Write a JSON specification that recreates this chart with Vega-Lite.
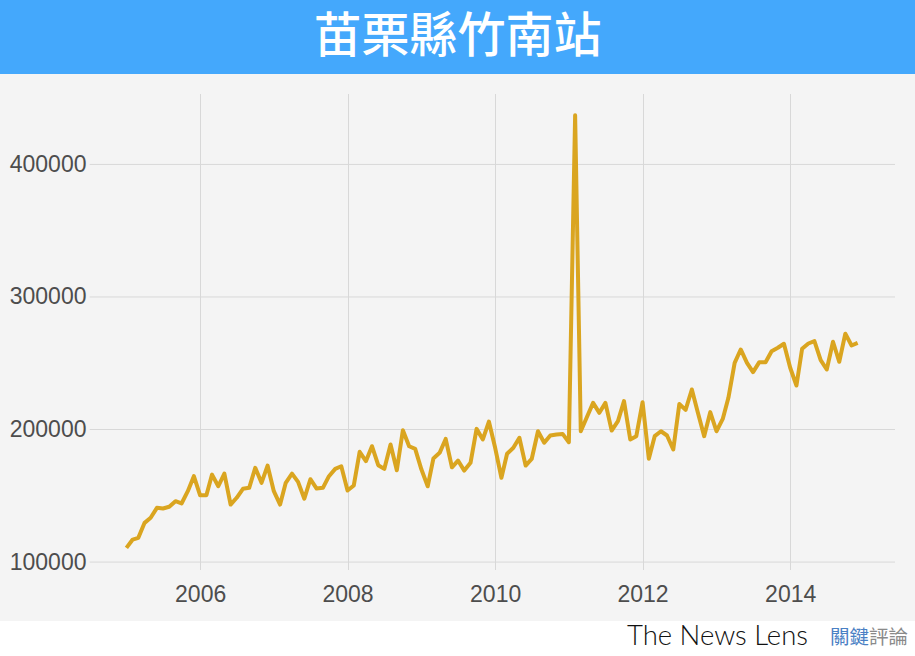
{
  "$schema": "https://vega.github.io/schema/vega-lite/v6.json",
  "padding": 0,
  "background": "#f4f4f4",
  "spacing": 14.5,
  "config": {
    "axis": {
      "domain": false,
      "ticks": false,
      "tickSize": 0,
      "labelFont": "Liberation Sans",
      "labelFontSize": 23,
      "labelColor": "#4d4d4d",
      "gridColor": "#d8d8d8",
      "gridWidth": 1,
      "title": null
    }
  },
  "vconcat": [
    {
      "width": 915,
      "height": 74,
      "view": {"fill": "#44a8fc", "stroke": null},
      "data": {"values": [{"title": "苗栗縣竹南站"}]},
      "mark": {"type": "text", "font": "Noto Sans CJK TC", "fontSize": 48, "fontWeight": 500, "color": "#ffffff", "align": "center", "baseline": "middle", "dy": 1},
      "encoding": {"text": {"field": "title", "type": "nominal"}}
    },
    {
      "width": 895,
      "height": 476,
      "title": {"text": " ", "fontSize": 5, "offset": 0, "anchor": "start"},
      "view": {"fill": "#f4f4f4", "stroke": null},
      "layer": [
        {
          "data": {"values": [{"g": 100000}, {"g": 200000}, {"g": 300000}, {"g": 400000}]},
          "mark": {"type": "rule", "color": "#d8d8d8", "strokeWidth": 1},
          "encoding": {
            "y": {"field": "g", "type": "quantitative"},
            "x": {"datum": {"year": 2004, "month": 7, "date": 3, "utc": true}, "type": "temporal"},
            "x2": {"datum": {"year": 2015, "month": 6, "date": 4, "utc": true}}
          }
        },
        {
          "data": {"values": [
            {"month": "2005-01-01", "count": 110700},
            {"month": "2005-02-01", "count": 117000},
            {"month": "2005-03-01", "count": 118300},
            {"month": "2005-04-01", "count": 129600},
            {"month": "2005-05-01", "count": 133400},
            {"month": "2005-06-01", "count": 140900},
            {"month": "2005-07-01", "count": 140400},
            {"month": "2005-08-01", "count": 141700},
            {"month": "2005-09-01", "count": 145900},
            {"month": "2005-10-01", "count": 144200},
            {"month": "2005-11-01", "count": 153500},
            {"month": "2005-12-01", "count": 164800},
            {"month": "2006-01-01", "count": 150400},
            {"month": "2006-02-01", "count": 150400},
            {"month": "2006-03-01", "count": 166000},
            {"month": "2006-04-01", "count": 157200},
            {"month": "2006-05-01", "count": 166800},
            {"month": "2006-06-01", "count": 143400},
            {"month": "2006-07-01", "count": 148500},
            {"month": "2006-08-01", "count": 155300},
            {"month": "2006-09-01", "count": 156000},
            {"month": "2006-10-01", "count": 171100},
            {"month": "2006-11-01", "count": 159800},
            {"month": "2006-12-01", "count": 172800},
            {"month": "2007-01-01", "count": 153500},
            {"month": "2007-02-01", "count": 143400},
            {"month": "2007-03-01", "count": 159800},
            {"month": "2007-04-01", "count": 166700},
            {"month": "2007-05-01", "count": 160500},
            {"month": "2007-06-01", "count": 147800},
            {"month": "2007-07-01", "count": 162500},
            {"month": "2007-08-01", "count": 155500},
            {"month": "2007-09-01", "count": 156000},
            {"month": "2007-10-01", "count": 164800},
            {"month": "2007-11-01", "count": 170300},
            {"month": "2007-12-01", "count": 172300},
            {"month": "2008-01-01", "count": 154000},
            {"month": "2008-02-01", "count": 157800},
            {"month": "2008-03-01", "count": 183200},
            {"month": "2008-04-01", "count": 176100},
            {"month": "2008-05-01", "count": 187400},
            {"month": "2008-06-01", "count": 173100},
            {"month": "2008-07-01", "count": 170300},
            {"month": "2008-08-01", "count": 188700},
            {"month": "2008-09-01", "count": 169300},
            {"month": "2008-10-01", "count": 199500},
            {"month": "2008-11-01", "count": 187400},
            {"month": "2008-12-01", "count": 185400},
            {"month": "2009-01-01", "count": 169800},
            {"month": "2009-02-01", "count": 157200},
            {"month": "2009-03-01", "count": 178100},
            {"month": "2009-04-01", "count": 182400},
            {"month": "2009-05-01", "count": 192900},
            {"month": "2009-06-01", "count": 171500},
            {"month": "2009-07-01", "count": 176600},
            {"month": "2009-08-01", "count": 169000},
            {"month": "2009-09-01", "count": 174900},
            {"month": "2009-10-01", "count": 200500},
            {"month": "2009-11-01", "count": 192500},
            {"month": "2009-12-01", "count": 206000},
            {"month": "2010-01-01", "count": 186200},
            {"month": "2010-02-01", "count": 163600},
            {"month": "2010-03-01", "count": 181700},
            {"month": "2010-04-01", "count": 186200},
            {"month": "2010-05-01", "count": 193800},
            {"month": "2010-06-01", "count": 172800},
            {"month": "2010-07-01", "count": 177800},
            {"month": "2010-08-01", "count": 198700},
            {"month": "2010-09-01", "count": 190000},
            {"month": "2010-10-01", "count": 195500},
            {"month": "2010-11-01", "count": 196200},
            {"month": "2010-12-01", "count": 196700},
            {"month": "2011-01-01", "count": 190400},
            {"month": "2011-02-01", "count": 437000},
            {"month": "2011-03-01", "count": 198700},
            {"month": "2011-04-01", "count": 209600},
            {"month": "2011-05-01", "count": 220100},
            {"month": "2011-06-01", "count": 212600},
            {"month": "2011-07-01", "count": 220100},
            {"month": "2011-08-01", "count": 199200},
            {"month": "2011-09-01", "count": 206300},
            {"month": "2011-10-01", "count": 221400},
            {"month": "2011-11-01", "count": 192500},
            {"month": "2011-12-01", "count": 195000},
            {"month": "2012-01-01", "count": 220600},
            {"month": "2012-02-01", "count": 177900},
            {"month": "2012-03-01", "count": 195000},
            {"month": "2012-04-01", "count": 198700},
            {"month": "2012-05-01", "count": 195500},
            {"month": "2012-06-01", "count": 184900},
            {"month": "2012-07-01", "count": 219200},
            {"month": "2012-08-01", "count": 214800},
            {"month": "2012-09-01", "count": 230200},
            {"month": "2012-10-01", "count": 212600},
            {"month": "2012-11-01", "count": 195000},
            {"month": "2012-12-01", "count": 213100},
            {"month": "2013-01-01", "count": 198700},
            {"month": "2013-02-01", "count": 208000},
            {"month": "2013-03-01", "count": 223900},
            {"month": "2013-04-01", "count": 250300},
            {"month": "2013-05-01", "count": 260400},
            {"month": "2013-06-01", "count": 250300},
            {"month": "2013-07-01", "count": 243300},
            {"month": "2013-08-01", "count": 250800},
            {"month": "2013-09-01", "count": 250800},
            {"month": "2013-10-01", "count": 259100},
            {"month": "2013-11-01", "count": 261700},
            {"month": "2013-12-01", "count": 264700},
            {"month": "2014-01-01", "count": 246600},
            {"month": "2014-02-01", "count": 233200},
            {"month": "2014-03-01", "count": 260900},
            {"month": "2014-04-01", "count": 264900},
            {"month": "2014-05-01", "count": 266700},
            {"month": "2014-06-01", "count": 252300},
            {"month": "2014-07-01", "count": 245300},
            {"month": "2014-08-01", "count": 266200},
            {"month": "2014-09-01", "count": 251100},
            {"month": "2014-10-01", "count": 272300},
            {"month": "2014-11-01", "count": 263400},
            {"month": "2014-12-01", "count": 265400}
          ]},
          "mark": {"type": "line", "color": "#DAA520", "strokeWidth": 4, "strokeJoin": "round"},
          "encoding": {
            "x": {
              "field": "month",
              "type": "temporal",
              "scale": {
                "type": "utc",
                "domain": [
                  {"year": 2003, "month": 4, "date": 16, "utc": true},
                  {"year": 2015, "month": 6, "date": 4, "utc": true}
                ]
              },
              "axis": {
                "grid": true,
                "values": [
                  {"year": 2006, "month": 1, "date": 1, "utc": true},
                  {"year": 2008, "month": 1, "date": 1, "utc": true},
                  {"year": 2010, "month": 1, "date": 1, "utc": true},
                  {"year": 2012, "month": 1, "date": 1, "utc": true},
                  {"year": 2014, "month": 1, "date": 1, "utc": true}
                ],
                "format": "%Y",
                "formatType": "utc",
                "labelPadding": 14,
                "labelFlush": false
              }
            },
            "y": {
              "field": "count",
              "type": "quantitative",
              "scale": {"domain": [94400, 453500], "nice": false, "zero": false},
              "axis": {
                "grid": false,
                "values": [100000, 200000, 300000, 400000],
                "format": "d",
                "labelAlign": "right",
                "labelPadding": -86,
                "labelFlush": false
              }
            }
          }
        }
      ]
    },
    {
      "width": 915,
      "height": 36,
      "view": {"fill": "#ffffff", "stroke": null},
      "data": {"values": [{"en": "The News Lens", "zh1": "關鍵", "zh2": "評論"}]},
      "layer": [
        {
          "mark": {"type": "text", "dx": -107, "dy": 6, "align": "right", "baseline": "alphabetic", "font": "Lato", "fontWeight": 300, "fontSize": 27.5, "color": "#111111"},
          "encoding": {"text": {"field": "en", "type": "nominal"}, "x": {"value": "width"}}
        },
        {
          "mark": {"type": "text", "dx": -46, "dy": 5, "align": "right", "baseline": "alphabetic", "font": "Noto Sans CJK TC", "fontSize": 19.5, "color": "#4a80c4"},
          "encoding": {"text": {"field": "zh1", "type": "nominal"}, "x": {"value": "width"}}
        },
        {
          "mark": {"type": "text", "dx": -7, "dy": 5, "align": "right", "baseline": "alphabetic", "font": "Noto Sans CJK TC", "fontSize": 19.5, "color": "#8a8a8a"},
          "encoding": {"text": {"field": "zh2", "type": "nominal"}, "x": {"value": "width"}}
        }
      ]
    }
  ]
}
